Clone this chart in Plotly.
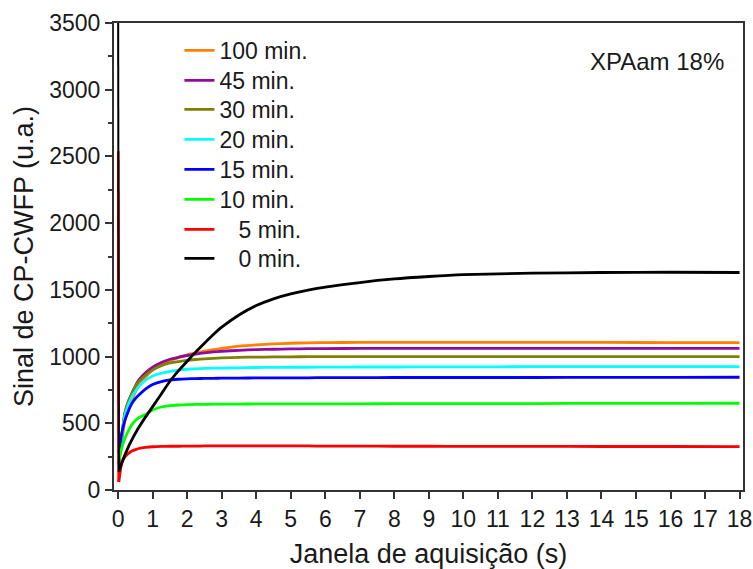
import plotly.graph_objects as go

# acquisition time (s)
t = [0.02, 0.1, 0.2, 0.3, 0.4, 0.5, 0.6, 0.8, 1.0, 1.25, 1.5, 1.75, 2.0, 2.25, 2.5,
     2.75, 3.0, 3.5, 4.0, 4.5, 5.0, 5.5, 6.0, 7.0, 8.0, 9.0, 10.0, 12.0, 14.0, 16.0, 18.0]

# CP-CWFP signal (a.u.) per polymerisation time
s100 = [180, 350, 525, 605, 675, 735, 787, 850, 900, 940, 970, 992, 1012, 1027, 1040,
        1052, 1062, 1078, 1088, 1095, 1100, 1103, 1105, 1106, 1107, 1107, 1107, 1106, 1106, 1105, 1105]
s45 = [200, 390, 580, 665, 725, 780, 825, 880, 920, 955, 980, 995, 1008, 1019, 1028,
       1035, 1040, 1047, 1052, 1055, 1057, 1059, 1060, 1061, 1062, 1062, 1062, 1062, 1062, 1062, 1062]
s30 = [210, 400, 585, 665, 725, 775, 812, 862, 900, 932, 952, 963, 972, 978, 983,
       987, 990, 994, 996, 997, 998, 999, 999, 1000, 1000, 1000, 1000, 1000, 1000, 1000, 1000]
s20 = [220, 400, 560, 640, 700, 740, 775, 825, 855, 875, 889, 898, 905, 908, 911,
       913, 914, 916, 918, 919, 920, 920, 921, 922, 922, 923, 923, 924, 924, 925, 925]
s15 = [280, 420, 525, 595, 650, 685, 712, 757, 790, 812, 825, 830, 833, 835, 836,
       837, 838, 839, 840, 840, 841, 841, 842, 842, 843, 843, 843, 843, 844, 844, 845]
s10 = [230, 310, 390, 445, 490, 520, 542, 567, 600, 622, 632, 637, 640, 641, 642,
       643, 643, 644, 645, 645, 645, 646, 646, 646, 647, 647, 648, 648, 649, 649, 650]
s5 = [60, 195, 250, 275, 292, 303, 311, 319, 324, 327, 328, 328, 329, 329, 330,
      330, 330, 330, 330, 330, 330, 330, 329, 329, 328, 328, 327, 327, 326, 326, 325]
s0 = [137, 200, 265, 325, 378, 425, 470, 550, 625, 720, 815, 895, 965, 1035, 1100,
      1163, 1220, 1312, 1382, 1433, 1470, 1498, 1520, 1555, 1582, 1600, 1614, 1625, 1630, 1632, 1630]

# first acquired echo (off-scale spike at t = 0) and the following point
t_spike = [0, 0.02]
s5_spike = [2540, 60]
s0_spike = [3600, 137]

names = ["100 min.", "45 min.", "30 min.", "20 min.", "15 min.", "10 min.",
         "\u00a0\u00a0\u00a05 min.", "\u00a0\u00a0\u00a00 min."]
series = [s100, s45, s30, s20, s15, s10, s5, s0]
colors = ["#FF8000", "#8E0C9E", "#808000", "#00FFFF", "#0000FF", "#00FF00", "#FF0000", "#000000"]

x_ticks = list(range(0, 19))
y_ticks = [0, 500, 1000, 1500, 2000, 2500, 3000, 3500]

FONT = "Liberation Sans, Arial, sans-serif"
TXT = "#1a1a1a"
LW = 2.8

# legend rows: pixel centres in the reference, converted to paper coords
PLOT_TOP, PLOT_BOTTOM = 23, 490
row_centres = [50, 80, 109, 139, 169, 199, 229, 258]

fig = go.Figure()
for i, (nm, ys, c) in enumerate(zip(names, series, colors)):
    leg = "legend" if i == 0 else f"legend{i + 1}"
    if nm.endswith("0 min."):
        # red spike goes under the black curve
        fig.add_trace(go.Scatter(x=t_spike, y=s5_spike, mode="lines", showlegend=False,
                                 hoverinfo="skip", line=dict(color=colors[6], width=2)))
    fig.add_trace(go.Scatter(
        x=t, y=ys, mode="lines", name=nm, legend=leg,
        line=dict(color=c, width=LW, shape="spline", smoothing=0.6),
    ))
fig.add_trace(go.Scatter(x=t_spike, y=s0_spike, mode="lines", showlegend=False,
                         hoverinfo="skip", line=dict(color=colors[7], width=2)))

axis_common = dict(
    showgrid=False, zeroline=False, showline=True, linecolor="#333333", linewidth=2,
    mirror=True, ticks="outside", tickcolor="#333333", tickwidth=1.5, ticklen=7,
    tickfont=dict(family=FONT, size=23, color=TXT), automargin=False,
)

fig.update_xaxes(
    range=[-0.12, 18.1], tickvals=x_ticks, ticktext=[str(v) for v in x_ticks],
    title=dict(text="Janela de aquisição (s)", font=dict(family=FONT, size=27, color=TXT), standoff=18),
    **axis_common,
)
fig.update_yaxes(
    range=[0, 3500], tickvals=y_ticks, ticktext=[str(v) for v in y_ticks],
    minor=dict(dtick=250, ticks="outside", ticklen=4, tickcolor="#333333", tickwidth=1.5),
    title=dict(text="Sinal de CP-CWFP (u.a.)", font=dict(family=FONT, size=27, color=TXT), standoff=8),
    **axis_common,
)

fig.add_annotation(
    text="XPAam 18%", xref="paper", yref="paper", x=0.863, y=0.918,
    xanchor="center", yanchor="middle", showarrow=False,
    font=dict(family=FONT, size=24, color=TXT),
)

plot_h = PLOT_BOTTOM - PLOT_TOP
legends = {}
for i, yc in enumerate(row_centres):
    key = "legend" if i == 0 else f"legend{i + 1}"
    legends[key] = dict(
        x=0.104, y=(PLOT_BOTTOM - (yc - 21)) / plot_h, xanchor="left", yanchor="top",
        bgcolor="rgba(0,0,0,0)", borderwidth=0,
        font=dict(family=FONT, size=23, color=TXT),
    )

fig.update_layout(
    width=753, height=569,
    margin=dict(l=114, r=10, t=PLOT_TOP, b=569 - PLOT_BOTTOM),
    plot_bgcolor="white", paper_bgcolor="white",
    font=dict(family=FONT, color=TXT),
    **legends,
)

fig.write_html("out.html")
